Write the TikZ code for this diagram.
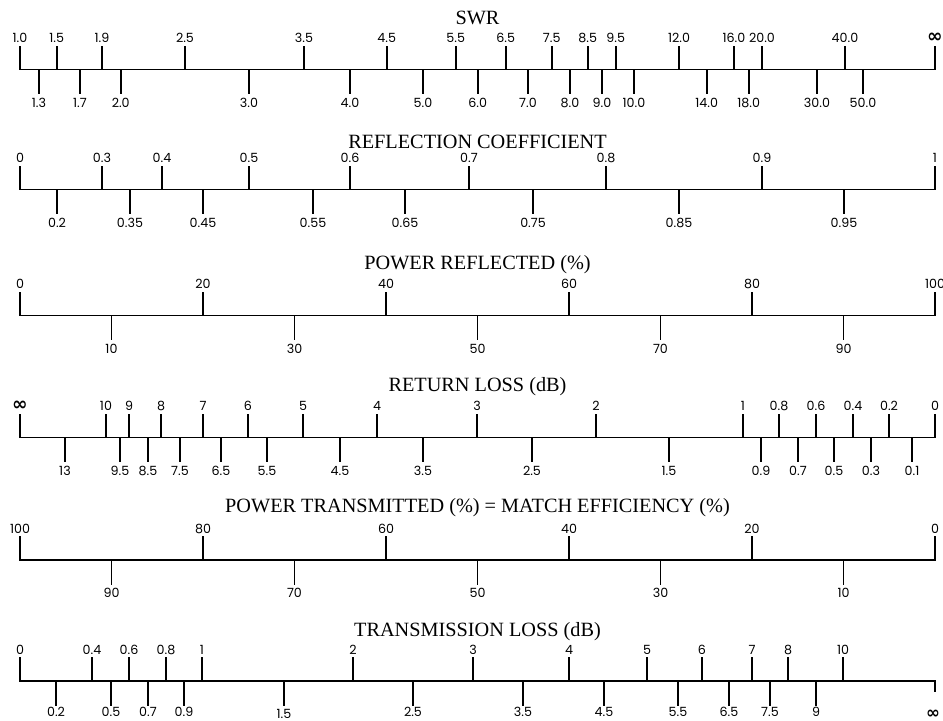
\documentclass[tikz,border=0pt]{standalone}
\usepackage{fontspec}
\setmainfont{Liberation Serif}
\newfontfamily\ticknumfont{Poppins}
\newfontfamily\infglyphfont{DejaVu Sans}

\begin{document}
\begin{tikzpicture}[x=0.75pt,y=0.75pt,yscale=-1,xscale=1,
  axisline/.style={line width=1.3pt, line cap=rect},
  tickline/.style={line width=1.3pt},
  toplbl/.style={anchor=base, inner sep=0.75pt, yshift=2pt, font=\ticknumfont\fontsize{9.5}{10}\selectfont},
  botlbl/.style={anchor=base, inner sep=0.75pt, yshift=-10pt, font=\ticknumfont\fontsize{9.5}{10}\selectfont},
  lastlbl/.style={botlbl, inner sep=0pt, yshift=1.5pt},
  scaletitle/.style={anchor=base, inner sep=0.75pt, font=\fontsize{15.2}{16}\selectfont}]
\useasboundingbox (0,0) rectangle (943,721);
\newcommand{\infsym}{{\infglyphfont\bfseries\fontsize{14}{14}\selectfont ∞}}

% SWR
\draw (477.5,24) node [scaletitle] (swrtitle) {SWR};
\draw [axisline] (20,69.5) -- (935,69.5);
\draw [tickline] (20,69.5) -- ++(0,-24) node [toplbl] (swr10) {1.0};
\draw [tickline] (56.7,69.5) -- ++(0,-24) node [toplbl] (swr15) {1.5};
\draw [tickline] (102,69.5) -- ++(0,-24) node [toplbl] (swr19) {1.9};
\draw [tickline] (185,69.5) -- ++(0,-24) node [toplbl] (swr25) {2.5};
\draw [tickline] (304,69.5) -- ++(0,-24) node [toplbl] (swr35) {3.5};
\draw [tickline] (386.7,69.5) -- ++(0,-24) node [toplbl] (swr45) {4.5};
\draw [tickline] (455.7,69.5) -- ++(0,-24) node [toplbl] (swr55) {5.5};
\draw [tickline] (505.7,69.5) -- ++(0,-24) node [toplbl] (swr65) {6.5};
\draw [tickline] (551.7,69.5) -- ++(0,-24) node [toplbl] (swr75) {7.5};
\draw [tickline] (587.7,69.5) -- ++(0,-24) node [toplbl] (swr85) {8.5};
\draw [tickline] (615.7,69.5) -- ++(0,-24) node [toplbl] (swr95) {9.5};
\draw [tickline] (679,69.5) -- ++(0,-24) node [toplbl] (swr120) {12.0};
\draw [tickline] (734,69.5) -- ++(0,-24) node [toplbl] (swr160) {16.0};
\draw [tickline] (762,69.5) -- ++(0,-24) node [toplbl] (swr200) {20.0};
\draw [tickline] (845,69.5) -- ++(0,-24) node [toplbl] (swr400) {40.0};
\draw [tickline] (935,69.5) -- ++(0,-24) node [toplbl] (swrinf) {\infsym};
\draw [tickline] (39,69.5) -- ++(0,24.5) node [botlbl] (swr13) {1.3};
\draw [tickline] (80,69.5) -- ++(0,24.5) node [botlbl] (swr17) {1.7};
\draw [tickline] (120.7,69.5) -- ++(0,24.5) node [botlbl] (swr20) {2.0};
\draw [tickline] (249,69.5) -- ++(0,24.5) node [botlbl] (swr30) {3.0};
\draw [tickline] (350,69.5) -- ++(0,24.5) node [botlbl] (swr40) {4.0};
\draw [tickline] (423,69.5) -- ++(0,24.5) node [botlbl] (swr50) {5.0};
\draw [tickline] (477.7,69.5) -- ++(0,24.5) node [botlbl] (swr60) {6.0};
\draw [tickline] (528,69.5) -- ++(0,24.5) node [botlbl] (swr70) {7.0};
\draw [tickline] (570,69.5) -- ++(0,24.5) node [botlbl] (swr80) {8.0};
\draw [tickline] (602,69.5) -- ++(0,24.5) node [botlbl] (swr90) {9.0};
\draw [tickline] (634,69.5) -- ++(0,24.5) node [botlbl] (swr100) {10.0};
\draw [tickline] (706.7,69.5) -- ++(0,24.5) node [botlbl] (swr140) {14.0};
\draw [tickline] (748.7,69.5) -- ++(0,24.5) node [botlbl] (swr180) {18.0};
\draw [tickline] (817,69.5) -- ++(0,24.5) node [botlbl] (swr300) {30.0};
\draw [tickline] (863,69.5) -- ++(0,24.5) node [botlbl] (swr500) {50.0};

% REFLECTION COEFFICIENT
\draw (477.5,148) node [scaletitle] (rctitle) {REFLECTION COEFFICIENT};
\draw [axisline] (20,189.5) -- (935,189.5);
\draw [tickline] (20,189.5) -- ++(0,-24) node [toplbl] (rc0) {0};
\draw [tickline] (102,189.5) -- ++(0,-24) node [toplbl] (rc03) {0.3};
\draw [tickline] (162,189.5) -- ++(0,-24) node [toplbl] (rc04) {0.4};
\draw [tickline] (249,189.5) -- ++(0,-24) node [toplbl] (rc05) {0.5};
\draw [tickline] (350,189.5) -- ++(0,-24) node [toplbl] (rc06) {0.6};
\draw [tickline] (469,189.5) -- ++(0,-24) node [toplbl] (rc07) {0.7};
\draw [tickline] (606,189.5) -- ++(0,-24) node [toplbl] (rc08) {0.8};
\draw [tickline] (762,189.5) -- ++(0,-24) node [toplbl] (rc09) {0.9};
\draw [tickline] (935,189.5) -- ++(0,-24) node [toplbl] (rc1) {1};
\draw [tickline] (57,189.5) -- ++(0,24.5) node [botlbl] (rc02) {0.2};
\draw [tickline] (130,189.5) -- ++(0,24.5) node [botlbl] (rc035) {0.35};
\draw [tickline] (203,189.5) -- ++(0,24.5) node [botlbl] (rc045) {0.45};
\draw [tickline] (313,189.5) -- ++(0,24.5) node [botlbl] (rc055) {0.55};
\draw [tickline] (405,189.5) -- ++(0,24.5) node [botlbl] (rc065) {0.65};
\draw [tickline] (533,189.5) -- ++(0,24.5) node [botlbl] (rc075) {0.75};
\draw [tickline] (679,189.5) -- ++(0,24.5) node [botlbl] (rc085) {0.85};
\draw [tickline] (844,189.5) -- ++(0,24.5) node [botlbl] (rc095) {0.95};

% POWER REFLECTED
\draw (477.5,269.5) node [scaletitle] (prtitle) {POWER REFLECTED (\%)};
\draw [axisline] (20,315.5) -- (935,315.5);
\draw [tickline] (20,315.5) -- ++(0,-24) node [toplbl] (pr0) {0};
\draw [tickline] (203,315.5) -- ++(0,-24) node [toplbl] (pr20) {20};
\draw [tickline] (386,315.5) -- ++(0,-24) node [toplbl] (pr40) {40};
\draw [tickline] (569,315.5) -- ++(0,-24) node [toplbl] (pr60) {60};
\draw [tickline] (752,315.5) -- ++(0,-24) node [toplbl] (pr80) {80};
\draw [tickline] (935,315.5) -- ++(0,-24) node [toplbl] (pr100) {100};
\draw [tickline] (111.5,315.5) -- ++(0,24.5) node [botlbl] (pr10) {10};
\draw [tickline] (294.5,315.5) -- ++(0,24.5) node [botlbl] (pr30) {30};
\draw [tickline] (477.5,315.5) -- ++(0,24.5) node [botlbl] (pr50) {50};
\draw [tickline] (660.5,315.5) -- ++(0,24.5) node [botlbl] (pr70) {70};
\draw [tickline] (843.5,315.5) -- ++(0,24.5) node [botlbl] (pr90) {90};

% RETURN LOSS
\draw (477.5,391.5) node [scaletitle] (rltitle) {RETURN LOSS (dB)};
\draw [axisline] (20,437.5) -- (935,437.5);
\draw [tickline] (20,437.5) -- ++(0,-24) node [toplbl] (rlinf) {\infsym};
\draw [tickline] (106,437.5) -- ++(0,-24) node [toplbl] (rl10) {10};
\draw [tickline] (129,437.5) -- ++(0,-24) node [toplbl] (rl9) {9};
\draw [tickline] (161,437.5) -- ++(0,-24) node [toplbl] (rl8) {8};
\draw [tickline] (203,437.5) -- ++(0,-24) node [toplbl] (rl7) {7};
\draw [tickline] (248,437.5) -- ++(0,-24) node [toplbl] (rl6) {6};
\draw [tickline] (303,437.5) -- ++(0,-24) node [toplbl] (rl5) {5};
\draw [tickline] (377,437.5) -- ++(0,-24) node [toplbl] (rl4) {4};
\draw [tickline] (477,437.5) -- ++(0,-24) node [toplbl] (rl3) {3};
\draw [tickline] (596,437.5) -- ++(0,-24) node [toplbl] (rl2) {2};
\draw [tickline] (743,437.5) -- ++(0,-24) node [toplbl] (rl1) {1};
\draw [tickline] (779,437.5) -- ++(0,-24) node [toplbl] (rl08) {0.8};
\draw [tickline] (816,437.5) -- ++(0,-24) node [toplbl] (rl06) {0.6};
\draw [tickline] (853,437.5) -- ++(0,-24) node [toplbl] (rl04) {0.4};
\draw [tickline] (889,437.5) -- ++(0,-24) node [toplbl] (rl02) {0.2};
\draw [tickline] (935,437.5) -- ++(0,-24) node [toplbl] (rl0) {0};
\draw [tickline] (65,437.5) -- ++(0,24.5) node [botlbl] (rl13) {13};
\draw [tickline] (120,437.5) -- ++(0,24.5) node [botlbl] (rl95) {9.5};
\draw [tickline] (148,437.5) -- ++(0,24.5) node [botlbl] (rl85) {8.5};
\draw [tickline] (180,437.5) -- ++(0,24.5) node [botlbl] (rl75) {7.5};
\draw [tickline] (221,437.5) -- ++(0,24.5) node [botlbl] (rl65) {6.5};
\draw [tickline] (267,437.5) -- ++(0,24.5) node [botlbl] (rl55) {5.5};
\draw [tickline] (340,437.5) -- ++(0,24.5) node [botlbl] (rl45) {4.5};
\draw [tickline] (423,437.5) -- ++(0,24.5) node [botlbl] (rl35) {3.5};
\draw [tickline] (532,437.5) -- ++(0,24.5) node [botlbl] (rl25) {2.5};
\draw [tickline] (669,437.5) -- ++(0,24.5) node [botlbl] (rl15) {1.5};
\draw [tickline] (761,437.5) -- ++(0,24.5) node [botlbl] (rl09) {0.9};
\draw [tickline] (798,437.5) -- ++(0,24.5) node [botlbl] (rl07) {0.7};
\draw [tickline] (834,437.5) -- ++(0,24.5) node [botlbl] (rl05) {0.5};
\draw [tickline] (871,437.5) -- ++(0,24.5) node [botlbl] (rl03) {0.3};
\draw [tickline] (912,437.5) -- ++(0,24.5) node [botlbl] (rl01) {0.1};

% POWER TRANSMITTED
\draw (477.5,512.5) node [scaletitle] (pttitle) {POWER TRANSMITTED (\%) = MATCH EFFICIENCY (\%)};
\draw [axisline] (20,560) -- (935,560);
\draw [tickline] (20,560) -- ++(0,-24) node [toplbl] (pt100) {100};
\draw [tickline] (203,560) -- ++(0,-24) node [toplbl] (pt80) {80};
\draw [tickline] (386,560) -- ++(0,-24) node [toplbl] (pt60) {60};
\draw [tickline] (569,560) -- ++(0,-24) node [toplbl] (pt40) {40};
\draw [tickline] (752,560) -- ++(0,-24) node [toplbl] (pt20) {20};
\draw [tickline] (935,560) -- ++(0,-24) node [toplbl] (pt0) {0};
\draw [tickline] (111.5,560) -- ++(0,24.5) node [botlbl] (pt90) {90};
\draw [tickline] (294.5,560) -- ++(0,24.5) node [botlbl] (pt70) {70};
\draw [tickline] (477.5,560) -- ++(0,24.5) node [botlbl] (pt50) {50};
\draw [tickline] (660.5,560) -- ++(0,24.5) node [botlbl] (pt30) {30};
\draw [tickline] (843.5,560) -- ++(0,24.5) node [botlbl] (pt10) {10};

% TRANSMISSION LOSS
\draw (477.5,636.5) node [scaletitle] (tltitle) {TRANSMISSION LOSS (dB)};
\draw [axisline] (20,681) -- (935,681);
\draw [tickline] (20,681) -- ++(0,-24) node [toplbl] (tl0) {0};
\draw [tickline] (92,681) -- ++(0,-24) node [toplbl] (tl04) {0.4};
\draw [tickline] (129,681) -- ++(0,-24) node [toplbl] (tl06) {0.6};
\draw [tickline] (166,681) -- ++(0,-24) node [toplbl] (tl08) {0.8};
\draw [tickline] (202,681) -- ++(0,-24) node [toplbl] (tl1) {1};
\draw [tickline] (353,681) -- ++(0,-24) node [toplbl] (tl2) {2};
\draw [tickline] (473,681) -- ++(0,-24) node [toplbl] (tl3) {3};
\draw [tickline] (569,681) -- ++(0,-24) node [toplbl] (tl4) {4};
\draw [tickline] (647,681) -- ++(0,-24) node [toplbl] (tl5) {5};
\draw [tickline] (702,681) -- ++(0,-24) node [toplbl] (tl6) {6};
\draw [tickline] (752,681) -- ++(0,-24) node [toplbl] (tl7) {7};
\draw [tickline] (788,681) -- ++(0,-24) node [toplbl] (tl8) {8};
\draw [tickline] (843,681) -- ++(0,-24) node [toplbl] (tl10) {10};
\draw [tickline] (56,681) -- ++(0,24.5) node [lastlbl] (tl02) {0.2};
\draw [tickline] (111,681) -- ++(0,24.5) node [lastlbl] (tl05) {0.5};
\draw [tickline] (148,681) -- ++(0,24.5) node [lastlbl] (tl07) {0.7};
\draw [tickline] (184,681) -- ++(0,24.5) node [lastlbl] (tl09) {0.9};
\draw [tickline] (284,681) -- ++(0,24.5) node [lastlbl, yshift=-1.2pt] (tl15) {1.5};
\draw [tickline] (413,681) -- ++(0,24.5) node [lastlbl] (tl25) {2.5};
\draw [tickline] (523,681) -- ++(0,24.5) node [lastlbl] (tl35) {3.5};
\draw [tickline] (604,681) -- ++(0,24.5) node [lastlbl] (tl45) {4.5};
\draw [tickline] (678,681) -- ++(0,24.5) node [lastlbl] (tl55) {5.5};
\draw [tickline] (729,681) -- ++(0,24.5) node [lastlbl] (tl65) {6.5};
\draw [tickline] (770,681) -- ++(0,24.5) node [lastlbl] (tl75) {7.5};
\draw [tickline] (816,681) -- ++(0,24.5) node [lastlbl] (tl9) {9};
\draw [tickline] (935,681) -- ++(0,11);
\draw (933,718) node [anchor=base, inner sep=0pt, font=\fontsize{12.5}{12.5}\selectfont] (tlinf) {{\infglyphfont\bfseries ∞}};

\end{tikzpicture}
\end{document}
